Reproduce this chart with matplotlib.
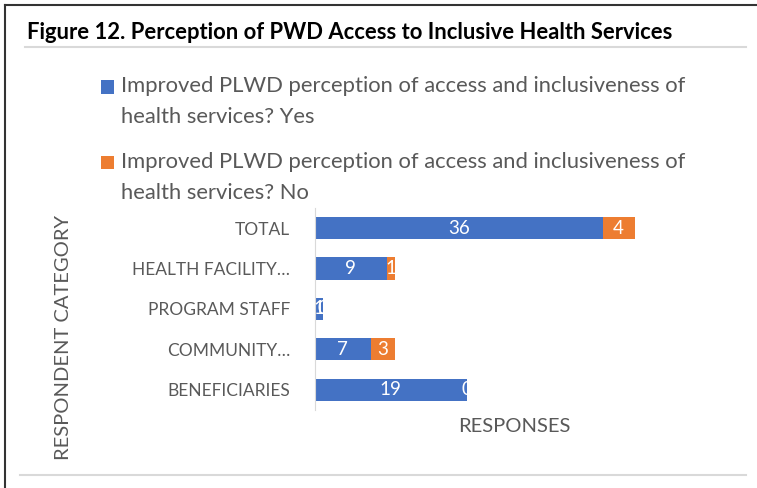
import matplotlib
matplotlib.use("Agg")
import matplotlib.pyplot as plt
from matplotlib.lines import Line2D
from matplotlib.patches import Rectangle
from matplotlib.legend_handler import HandlerPatch, update_from_first_child
from matplotlib.container import BarContainer

plt.rcParams['font.family'] = ['Lato', 'DejaVu Sans']

categories = ["BENEFICIARIES", "COMMUNITY…", "PROGRAM STAFF", "HEALTH FACILITY…", "TOTAL"]
yes_values = [19, 7, 1, 9, 36]
no_values = [0, 3, 0, 1, 4]
series_labels = ["Improved PLWD perception of access and inclusiveness of\nhealth services? Yes",
                 "Improved PLWD perception of access and inclusiveness of\nhealth services? No"]
title = "Figure 12. Perception of PWD Access to Inclusive Health Services"

BLUE = "#4472C4"
ORANGE = "#ED7D31"
GRAY = "#595959"

fig = plt.figure(figsize=(7.57, 4.88), dpi=100)
ax = fig.add_axes([0.416, 0.160, 0.528, 0.414])

y = list(range(len(categories)))
b1 = ax.barh(y, yes_values, height=0.55, color=BLUE, label=series_labels[0])
b2 = ax.barh(y, no_values, left=yes_values, height=0.55, color=ORANGE, label=series_labels[1])
ax.bar_label(b1, labels=[str(v) for v in yes_values], label_type='center', color='white', fontsize=13.5)
ax.bar_label(b2, labels=[str(v) for v in no_values], label_type='center', color='white', fontsize=13.5)

ax.set_xlim(0, 50)
ax.set_ylim(-0.5, len(categories) - 0.5)
ax.set_yticks(y)
ax.set_yticklabels(categories, color=GRAY, fontsize=12.5)
ax.tick_params(axis='y', length=0, pad=18)
ax.set_xticks([])
for s in ['top', 'right', 'bottom']:
    ax.spines[s].set_visible(False)
ax.spines['left'].set_color('#d9d9d9')
ax.set_xlabel("RESPONSES", color=GRAY, fontsize=14.5, labelpad=6)
ax.set_ylabel("RESPONDENT CATEGORY", color=GRAY, fontsize=14.5)
ax.yaxis.set_label_coords(-0.607, 0.356)

# title
fig.text(0.036, 0.934, title, fontsize=15.8, fontweight='bold', color='black', va='center', ha='left')
fig.add_artist(Line2D([0.033, 0.985], [0.903, 0.903], color='#d9d9d9', lw=1.5))
fig.add_artist(Line2D([0.026, 0.985], [0.027, 0.027], color='#d9d9d9', lw=1.5))
# border
fig.add_artist(Line2D([0.007, 0.007], [0.0, 0.99], color='#333333', lw=1.5))
fig.add_artist(Line2D([0.007, 1.0], [0.99, 0.99], color='#333333', lw=1.5))


def top_square(legend, orig_handle, xdescent, ydescent, width, height, fontsize):
    s = width
    return Rectangle((-xdescent, -ydescent + height - s + 0.1 * fontsize), s, s)


leg = fig.legend(handles=[b1, b2], labels=series_labels, loc='upper left',
                 bbox_to_anchor=(0.119, 0.866), frameon=False, fontsize=15.8,
                 labelcolor=GRAY, handlelength=0.6, handleheight=2.5,
                 handletextpad=0.3, labelspacing=1.12, borderpad=0,
                 handler_map={BarContainer: HandlerPatch(patch_func=top_square,
                                                         update_func=update_from_first_child)})
for t in leg.get_texts():
    t.set_linespacing(1.68)

fig.savefig("out.png", dpi=100)
